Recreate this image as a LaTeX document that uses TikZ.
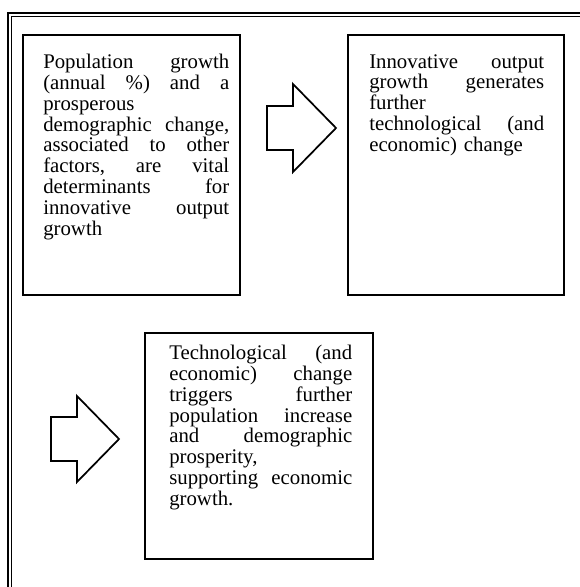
\documentclass[tikz,border=0pt]{standalone}
\usepackage{fontspec}
\setmainfont{Liberation Serif}
\newlength\jwa
\newlength\jwb
\newlength\jwc
\newcommand\jla[1]{\leavevmode\hbox to\jwa{#1}}
\newcommand\jlb[1]{\leavevmode\hbox to\jwb{#1}}
\newcommand\jlc[1]{\leavevmode\hbox to\jwc{#1}}
\tikzset{
  panel/.style={draw=black, line width=1.1pt, fill=white, inner sep=0pt},
  txt/.style={anchor=north west, inner sep=0pt, align=left,
    font=\fontsize{15.6pt}{15.6pt}\selectfont},
  blk/.style={draw=black, line width=1.3pt, line join=miter, fill=white},
}
\setlength\jwa{139.5pt}
\setlength\jwb{131.25pt}
\setlength\jwc{137.25pt}
\begin{document}
\begin{tikzpicture}[x=0.75pt,y=-0.75pt]
\useasboundingbox (0,0) rectangle (580,587);
% outer page border (thick-thin)
\draw[line width=1.6pt] (8,587) -- (8,12.8) -- (580,12.8);
\draw[line width=0.7pt] (11.6,587) -- (11.6,16.2) -- (580,16.2);
% boxes
\node[panel, minimum width=162.75pt, minimum height=195pt] (b1) at (131.5,165) {};
\node[panel, minimum width=162pt, minimum height=195pt] (b2) at (456,165) {};
\node[panel, minimum width=171pt, minimum height=169.5pt] (b3) at (259,446) {};
% texts
\node[txt, text width=139.5pt] (t1) at (43,54) {%
\jla{Population\hfill growth}\\
\jla{(annual\hfill\%)\hfill and\hfill a}\\
prosperous\\
\jla{demographic\hfill change,}\\
\jla{associated\hfill to\hfill other}\\
\jla{factors,\hfill are\hfill vital}\\
\jla{determinants\hfill for}\\
\jla{innovative\hfill output}\\
growth};
\node[txt, text width=131.25pt] (t2) at (369,54) {%
\jlb{Innovative\hfill output}\\
\jlb{growth\hfill generates}\\
further\\
\jlb{technological\hfill (and}\\
economic) change};
\node[txt, text width=137.25pt] (t3) at (169,345) {%
\jlc{Technological\hfill (and}\\
\jlc{economic)\hfill change}\\
\jlc{triggers\hfill further}\\
\jlc{population\hfill increase}\\
\jlc{and\hfill demographic}\\
prosperity,\\
\jlc{supporting\hfill economic}\\
growth.};
% block arrows
\draw[blk] (267,106) -- (293,106) -- (293,84) -- (336,128) -- (293,172) -- (293,150) -- (267,150) -- cycle;
\draw[blk] (51,417) -- (77,417) -- (77,396) -- (119,439) -- (77,482) -- (77,461) -- (51,461) -- cycle;
\end{tikzpicture}
\end{document}
